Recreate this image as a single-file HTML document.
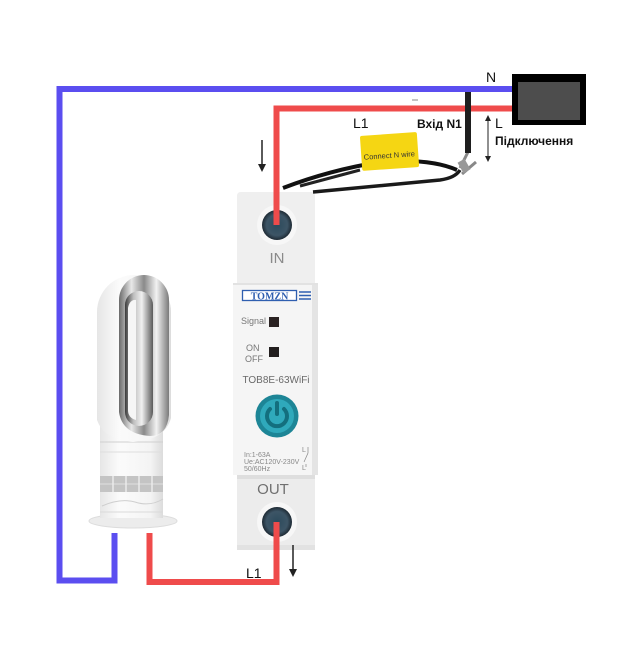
<!DOCTYPE html>
<html><head><meta charset="utf-8"><style>
html,body{margin:0;padding:0;background:#fff;}
svg{display:block;}
text{font-family:"Liberation Sans","DejaVu Sans",sans-serif;}
</style></head><body>
<svg width="625" height="670" viewBox="0 0 625 670" xmlns="http://www.w3.org/2000/svg">
<defs>
<linearGradient id="chrome" x1="0" x2="1" y1="0" y2="0">
<stop offset="0" stop-color="#6a6a6a"/><stop offset="0.25" stop-color="#e8e8e8"/><stop offset="0.5" stop-color="#8a8a8a"/><stop offset="0.75" stop-color="#f2f2f2"/><stop offset="1" stop-color="#7a7a7a"/>
</linearGradient>
<linearGradient id="inner" x1="0" x2="1" y1="0" y2="0">
<stop offset="0" stop-color="#3a3a3a"/><stop offset="0.3" stop-color="#bdbdbd"/><stop offset="0.6" stop-color="#f0f0f0"/><stop offset="1" stop-color="#5a5a5a"/>
</linearGradient>
<linearGradient id="body" x1="0" x2="1" y1="0" y2="0">
<stop offset="0" stop-color="#e6e6e6"/><stop offset="0.3" stop-color="#fbfbfb"/><stop offset="0.8" stop-color="#f4f4f4"/><stop offset="1" stop-color="#dcdcdc"/>
</linearGradient>
<radialGradient id="screw" cx="0.5" cy="0.5" r="0.5">
<stop offset="0" stop-color="#2c4a5c"/><stop offset="0.7" stop-color="#3d5566"/><stop offset="1" stop-color="#1e2a34"/>
</radialGradient>
</defs>

<!-- Fan -->
<ellipse cx="133" cy="521" rx="44" ry="7" fill="#ececec" stroke="#dcdcdc" stroke-width="1"/>
<rect x="100" y="420" width="63" height="98" fill="url(#body)"/>
<line x1="100" y1="442" x2="163" y2="442" stroke="#d0d0d0" stroke-width="1"/>
<line x1="100" y1="452" x2="163" y2="452" stroke="#dedede" stroke-width="1"/>
<rect x="100" y="476" width="63" height="16" fill="#c4c4c4"/>
<g stroke="#ebebeb" stroke-width="1.5">
<line x1="113" y1="476" x2="113" y2="492"/><line x1="126" y1="476" x2="126" y2="492"/><line x1="139" y1="476" x2="139" y2="492"/><line x1="152" y1="476" x2="152" y2="492"/>
<line x1="100" y1="484" x2="163" y2="484" stroke-width="0.8"/>
</g>
<path d="M102 506 Q120 498 135 502 Q150 507 163 499" fill="none" stroke="#cfcfcf" stroke-width="1"/>
<line x1="100" y1="512" x2="163" y2="512" stroke="#dadada" stroke-width="1"/>
<!-- loop outer white -->
<path d="M97 312 A37 37 0 0 1 171 312 L171 418 Q165 440 133 442 Q104 440 97 420 Z" fill="url(#body)"/>
<!-- chrome ring -->
<path d="M119 300 A25 25 0 0 1 169 300 L169 415 Q167 436 150 436 Q122 434 119 412 Z" fill="url(#chrome)"/>
<path d="M125 305 A14 14 0 0 1 153 305 L153 412 A14 14 0 0 1 125 412 Z" fill="url(#inner)"/>
<path d="M128 308 A7 10 0 0 1 136 300 L136 420 Q128 418 128 410 Z" fill="#f6f6f6"/>

<!-- Breaker -->
<path d="M237 196 Q237 192 241 192 L311 192 Q315 192 315 196 L315 283 L237 283 Z" fill="#efefef"/>
<rect x="233" y="283" width="85" height="192" fill="#f5f5f5"/>
<rect x="312" y="283" width="6" height="192" fill="#e4e4e4"/>
<rect x="233" y="283" width="85" height="2" fill="#e2e2e2"/>
<rect x="237" y="475" width="78" height="75" fill="#ececec"/>
<rect x="237" y="475" width="78" height="4" fill="#dedede"/>
<rect x="237" y="545" width="78" height="5" fill="#e2e2e2"/>
<circle cx="277" cy="225" r="20" fill="#f7f7f7"/>
<circle cx="277" cy="225" r="15" fill="url(#screw)"/>
<circle cx="277" cy="522" r="20" fill="#f7f7f7"/>
<circle cx="277" cy="522" r="15" fill="url(#screw)"/>
<text x="277" y="263" font-size="15" fill="#8a8a8a" text-anchor="middle">IN</text>
<text x="273" y="494" font-size="15" fill="#707070" text-anchor="middle">OUT</text>
<!-- logo -->
<rect x="242.5" y="290.5" width="54" height="10" fill="#fff" stroke="#2f5fb0" stroke-width="1.3"/>
<text x="269.5" y="299.5" font-size="10" font-weight="bold" fill="#2f5fb0" text-anchor="middle" style="font-family:'Liberation Serif',serif">TOMZN</text>
<g stroke="#2f5fb0" stroke-width="1.5"><line x1="299" y1="292" x2="311" y2="292"/><line x1="299" y1="295.5" x2="311" y2="295.5"/><line x1="299" y1="299" x2="311" y2="299"/></g>
<text x="241" y="324" font-size="9" fill="#777">Signal</text>
<rect x="269" y="317" width="10" height="10" fill="#2a2222"/>
<text x="246" y="351" font-size="9" fill="#777">ON</text>
<text x="245" y="362" font-size="9" fill="#777">OFF</text>
<rect x="269" y="347" width="10" height="10" fill="#221e1e"/>
<text x="276" y="383" font-size="10" fill="#6a6a6a" text-anchor="middle">TOB8E-63WiFi</text>
<circle cx="277" cy="416" r="21.5" fill="#1d8596"/>
<circle cx="277" cy="416" r="17" fill="#2fa9bb"/>
<path d="M270 409 A10 10 0 1 0 284 409" fill="none" stroke="#136f7e" stroke-width="4" stroke-linecap="round"/>
<line x1="277" y1="403" x2="277" y2="414" stroke="#136f7e" stroke-width="4" stroke-linecap="round"/>
<text x="244" y="457" font-size="7" fill="#888">In:1-63A</text>
<text x="244" y="464" font-size="7" fill="#888">Ue:AC120V-230V</text>
<text x="244" y="471" font-size="7" fill="#888">50/60Hz</text>
<text x="302" y="452" font-size="7" fill="#888">L</text>
<text x="302" y="470" font-size="7" fill="#888">L</text>
<path d="M308 447 L308 453 L304 462 M306 464 L306 467" fill="none" stroke="#888" stroke-width="0.7"/>

<!-- black cables & yellow label -->
<path d="M283 188 Q330 170 380 162 Q430 158 457 170" fill="none" stroke="#111" stroke-width="4"/>
<path d="M313 192 Q390 185 440 180 Q455 178 460 170" fill="none" stroke="#1a1a1a" stroke-width="3.5"/>
<path d="M300 186 Q330 178 360 170" fill="none" stroke="#222" stroke-width="3"/>
<path d="M460 168 L468 152 M462 174 L476 162" stroke="#888" stroke-width="3"/>
<rect x="460" y="160" width="8" height="12" fill="#999" transform="rotate(-30 464 166)"/>
<g transform="rotate(-4 389 151)">
<rect x="361" y="134" width="57" height="35" rx="2" fill="#f5d613"/>
<text x="389" y="158" font-size="7.5" fill="#333" text-anchor="middle">Connect N wire</text>
</g>

<!-- wires -->
<path d="M512 89 H59.5 V580.5 H114.5 V533" fill="none" stroke="#5b4ef0" stroke-width="6"/>
<path d="M512 108.5 H276.5 V225" fill="none" stroke="#ef4b4b" stroke-width="6"/>
<path d="M276.5 522 V582 H149.5 V533" fill="none" stroke="#ef4b4b" stroke-width="6"/>
<rect x="465" y="92" width="6" height="61" fill="#1e1e1e"/>
<line x1="412" y1="100" x2="418" y2="100" stroke="#888" stroke-width="1"/>

<!-- box -->
<rect x="512" y="74" width="74" height="51" fill="#000"/>
<rect x="518" y="82" width="62" height="38" fill="#4d4d4d"/>

<!-- arrows -->
<g stroke="#222" stroke-width="1.5" fill="#222">
<line x1="262" y1="140" x2="262" y2="166"/>
<path d="M258 164 L266 164 L262 172 Z" stroke="none"/>
<line x1="293" y1="545" x2="293" y2="571"/>
<path d="M289 569 L297 569 L293 577 Z" stroke="none"/>
<line x1="488" y1="120" x2="488" y2="157" stroke-width="1"/>
<path d="M485 121 L491 121 L488 115 Z" stroke="none"/>
<path d="M485 156 L491 156 L488 162 Z" stroke="none"/>
</g>

<!-- labels -->
<text x="486" y="82" font-size="14" fill="#111">N</text>
<text x="495" y="128" font-size="14" fill="#111">L</text>
<text x="353" y="128" font-size="14" fill="#111">L1</text>
<text x="417" y="128" font-size="12" font-weight="bold" fill="#111">Вхід N1</text>
<text x="495" y="145" font-size="12" font-weight="bold" fill="#111">Підключення</text>
<text x="246" y="578" font-size="14" fill="#111">L1</text>
</svg>
</body></html>
